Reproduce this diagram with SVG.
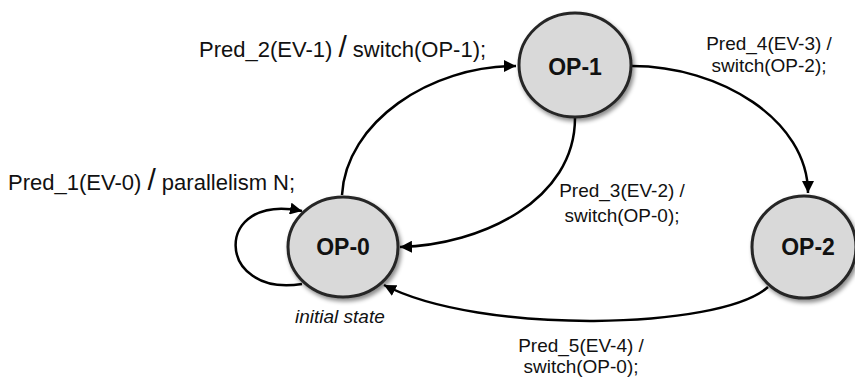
<svg xmlns="http://www.w3.org/2000/svg" width="855" height="380" viewBox="0 0 855 380">
<style>
.node{fill:#d9d9d9;stroke:#262626;stroke-width:3;filter:url(#sh)}
.nl{font-family:"Liberation Sans",Arial,sans-serif;font-weight:bold;font-size:23px;fill:#111;text-anchor:middle}
.lbl{font-family:"Liberation Sans",Arial,sans-serif;font-size:22px;fill:#111}
.sm{font-family:"Liberation Sans",Arial,sans-serif;font-size:19px;fill:#111;text-anchor:middle}
.it{font-family:"Liberation Sans",Arial,sans-serif;font-size:19px;font-style:italic;fill:#111}
.edge{fill:none;stroke:#000;stroke-width:2.5;marker-end:url(#ah)}
</style>
<defs>
<filter id="sh" x="-20%" y="-20%" width="140%" height="140%">
<feDropShadow dx="2" dy="3" stdDeviation="2" flood-color="#000" flood-opacity="0.45"/>
</filter>
<marker id="ah" markerUnits="userSpaceOnUse" markerWidth="14" markerHeight="12" refX="12" refY="6" orient="auto">
<path d="M0,0 L12,6 L0,12 Z" fill="#000"/>
</marker>
</defs>
<rect width="855" height="380" fill="#fff"/>
<g id="connectors">
<path class="edge" d="M342,195 C 346,122 430,66 516,66"/>
<path class="edge" d="M575,118 C 575,200 482,245 400,247"/>
<path class="edge" d="M632,66 C 720,66 808,120 808,193"/>
<path class="edge" d="M768,287 C 720,330 480,335 384,285"/>
<path class="edge" d="M302,284 C 215,298 212,192 302,211"/>
</g>
<g id="op0">
<ellipse class="node" cx="343" cy="247" rx="55" ry="50"/>
<text class="nl" x="343" y="255">OP-0</text>
</g>
<g id="op1">
<ellipse class="node" cx="575" cy="65" rx="56" ry="52"/>
<text class="nl" x="575" y="75">OP-1</text>
</g>
<g id="op2">
<ellipse class="node" cx="804" cy="247" rx="52" ry="51"/>
<text class="nl" x="808" y="255">OP-2</text>
</g>
<g id="labels">
<text class="lbl" x="199" y="57">Pred_2(EV-1) <tspan font-size="30">/</tspan> switch(OP-1);</text>
<text class="lbl" x="8" y="190">Pred_1(EV-0) <tspan font-size="30">/</tspan> parallelism N;</text>
<text class="sm" x="769" y="50">Pred_4(EV-3) /</text>
<text class="sm" x="769" y="72">switch(OP-2);</text>
<text class="sm" x="622" y="197">Pred_3(EV-2) /</text>
<text class="sm" x="622" y="222">switch(OP-0);</text>
<text class="sm" x="581" y="352">Pred_5(EV-4) /</text>
<text class="sm" x="581" y="373">switch(OP-0);</text>
<text class="it" x="295" y="323">initial state</text>
</g>
</svg>
